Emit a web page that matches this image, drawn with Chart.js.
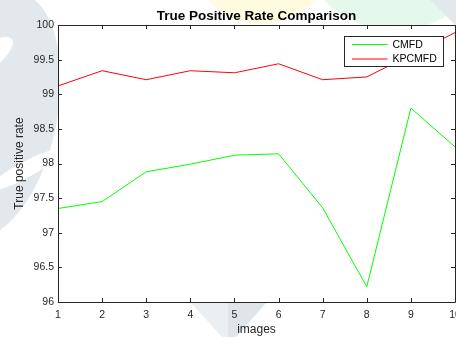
<!DOCTYPE html>
<html lang="en">
<head>
  <meta charset="UTF-8">
  <title>True Positive Rate Comparison</title>
  <script src="https://cdn.jsdelivr.net/npm/chart.js"></script>
  <style>
    body {
      margin: 0;
      padding: 0;
      background: #fff;
      overflow: hidden;
      width: 456px;
      height: 337px;
    }
    #wrap {
      width: 468px;
      height: 337px;
      position: relative;
    }
  </style>
</head>
<body>
  <div id="wrap">
    <canvas id="tprChart" width="468" height="337"></canvas>
  </div>

  <script>
    // data
    const images = ['1', '2', '3', '4', '5', '6', '7', '8', '9', '10'];
    const cmfd = [97.35, 97.45, 97.88, 97.99, 98.12, 98.14, 97.36, 96.22, 98.80, 98.24];
    const kpcmfd = [99.12, 99.34, 99.21, 99.34, 99.31, 99.44, 99.21, 99.25, 99.57, 99.89];
    const yTicks = [96, 96.5, 97, 97.5, 98, 98.5, 99, 99.5, 100];

    const axisColor = '#262626';
    const fontFamily = "'Liberation Sans', Arial, sans-serif";

    // faint watermark behind the axes, then white plot box
    const backdrop = {
      id: 'backdrop',
      beforeDraw(chart) {
        const c = chart.ctx;
        const a = chart.chartArea;
        c.save();
        c.fillStyle = '#fff';
        c.fillRect(0, 0, chart.width, chart.height);

        c.fillStyle = '#fffbe0';
        c.beginPath(); c.arc(262, -48, 72, 0, Math.PI * 2); c.fill();
        c.fillStyle = '#e4f8ec';
        c.beginPath(); c.arc(395, -70, 100, 0, Math.PI * 2); c.fill();

        c.fillStyle = '#e3e8ec';
        c.beginPath(); c.ellipse(-5, 115, 62, 125, 0.2, 0, Math.PI * 2); c.fill();
        c.fillStyle = '#fff';
        c.beginPath(); c.ellipse(-25, 65, 45, 14, -0.6, 0, Math.PI * 2); c.fill();
        c.beginPath(); c.ellipse(25, 170, 40, 8, -0.5, 0, Math.PI * 2); c.fill();

        c.fillStyle = '#e3e8ec';
        c.beginPath(); c.moveTo(430, 0); c.lineTo(470, 0); c.lineTo(470, 40); c.closePath(); c.fill();

        c.fillStyle = '#eceff2';
        c.beginPath(); c.moveTo(190, 302); c.lineTo(228, 302); c.lineTo(228, 337); c.lineTo(222, 337); c.closePath(); c.fill();
        c.fillStyle = '#e0e5e9';
        c.beginPath(); c.moveTo(228, 302); c.lineTo(267, 302); c.lineTo(236, 337); c.lineTo(228, 337); c.closePath(); c.fill();

        c.fillStyle = '#fff';
        c.fillRect(a.left, a.top, a.right - a.left, a.bottom - a.top);
        c.restore();
      }
    };

    // MATLAB style box with inner ticks, plus the boxed legend
    const axesBox = {
      id: 'axesBox',
      afterDraw(chart) {
        const c = chart.ctx;
        const a = chart.chartArea;
        const xs = chart.scales.x;
        const ys = chart.scales.y;
        c.save();
        c.strokeStyle = axisColor;
        c.lineWidth = 1;
        c.beginPath();
        c.rect(a.left + 0.5, a.top + 0.5, a.right - a.left, a.bottom - a.top);
        images.forEach((lab, i) => {
          const px = Math.round(xs.getPixelForValue(i)) + 0.5;
          c.moveTo(px, a.bottom); c.lineTo(px, a.bottom - 4);
          c.moveTo(px, a.top); c.lineTo(px, a.top + 4);
        });
        yTicks.forEach(v => {
          const py = Math.round(ys.getPixelForValue(v)) + 0.5;
          c.moveTo(a.left, py); c.lineTo(a.left + 4, py);
          c.moveTo(a.right, py); c.lineTo(a.right - 4, py);
        });
        c.stroke();

        // legend
        const lx = 344.5, ly = 36.5, lw = 99, lh = 30;
        c.fillStyle = '#fff';
        c.fillRect(lx, ly, lw, lh);
        c.strokeStyle = '#262626';
        c.strokeRect(lx, ly, lw, lh);
        c.font = '10.5px ' + fontFamily;
        c.textBaseline = 'middle';
        chart.data.datasets.forEach((ds, i) => {
          const y = ly + 8 + i * 14.5;
          c.strokeStyle = ds.borderColor;
          c.beginPath(); c.moveTo(lx + 7.5, y); c.lineTo(lx + 43, y); c.stroke();
          c.fillStyle = '#000';
          c.fillText(ds.label, lx + 48, y + 0.5);
        });
        c.restore();
      }
    };

    const ctx = document.getElementById('tprChart').getContext('2d');
    const chart = new Chart(ctx, {
      type: 'line',
      data: {
        labels: images,
        datasets: [
          {
            label: 'CMFD',
            data: cmfd,
            borderColor: '#00ff00',
            borderWidth: 1,
            pointRadius: 0,
            tension: 0,
            fill: false
          },
          {
            label: 'KPCMFD',
            data: kpcmfd,
            borderColor: '#ff0000',
            borderWidth: 1,
            pointRadius: 0,
            tension: 0,
            fill: false
          }
        ]
      },
      options: {
        responsive: false,
        animation: false,
        devicePixelRatio: 1,
        layout: { padding: { left: 0, right: 13, top: 0, bottom: 0 } },
        plugins: {
          legend: { display: false },
          tooltip: { enabled: false },
          title: {
            display: true,
            text: 'True Positive Rate Comparison',
            fullSize: false,
            color: '#000',
            font: { family: fontFamily, size: 13.5, weight: 'bold' },
            padding: { top: 8, bottom: 0.8 }
          }
        },
        scales: {
          x: {
            offset: false,
            grid: { display: false, drawTicks: false },
            border: { display: false },
            ticks: {
              color: axisColor,
              font: { family: fontFamily, size: 10.5 },
              padding: 7,
              maxRotation: 0,
              autoSkip: false
            },
            title: {
              display: true,
              text: 'images',
              color: axisColor,
              font: { family: fontFamily, size: 12 },
              padding: { top: 0, bottom: 0 }
            },
            afterFit(scale) { scale.height = 35; }
          },
          y: {
            min: 96,
            max: 100,
            grid: { display: false, drawTicks: false },
            border: { display: false },
            afterBuildTicks(scale) { scale.ticks = yTicks.map(v => ({ value: v })); },
            ticks: {
              color: axisColor,
              font: { family: fontFamily, size: 10.5 },
              padding: 4,
              callback: (v) => String(v)
            },
            title: {
              display: true,
              text: 'True positive rate',
              color: axisColor,
              font: { family: fontFamily, size: 12 },
              padding: { top: 12, bottom: 0 }
            },
            afterFit(scale) { scale.width = 58; }
          }
        }
      },
      plugins: [backdrop, axesBox]
    });
  </script>
</body>
</html>
